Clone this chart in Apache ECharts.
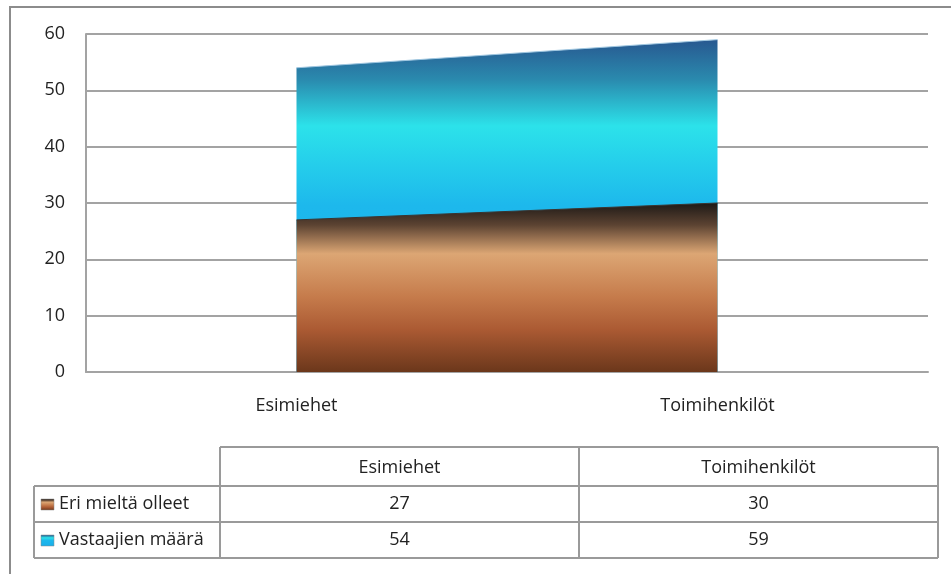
<!DOCTYPE html>
<html>
<head>
<meta charset="utf-8">
<script src="https://cdn.jsdelivr.net/npm/echarts@6/dist/echarts.min.js"></script>
<style>
  html, body { margin: 0; padding: 0; background: #fff; }
  #chart { width: 951px; height: 574px; }
</style>
</head>
<body>
<div id="chart"></div>
<script>
// Data
const categories = ['Esimiehet', 'Toimihenkilöt'];
const seriesNames = ['Eri mieltä olleet', 'Vastaajien määrä'];
const eriMieltaOlleet = [27, 30];
const vastaajienMaara = [54, 59];
const yTicks = [0, 10, 20, 30, 40, 50, 60];

const FONT = '"Open Sans", "Noto Sans", sans-serif';
const FS = 18;
const TEXT = '#222222';
const GRID = '#a3a3a3';

const brownFill = {
  type: 'linear', x: 0, y: 0, x2: 0, y2: 1,
  colorStops: [
    { offset: 0.00, color: '#1d1916' },
    { offset: 0.13, color: '#5c4332' },
    { offset: 0.30, color: '#dca674' },
    { offset: 0.55, color: '#c67c4c' },
    { offset: 0.75, color: '#ab5a33' },
    { offset: 1.00, color: '#6b371b' }
  ]
};
const blueFill = {
  type: 'linear', x: 0, y: 0, x2: 0, y2: 1,
  colorStops: [
    { offset: 0.00, color: '#285890' },
    { offset: 0.12, color: '#2a8aae' },
    { offset: 0.26, color: '#2ce2ea' },
    { offset: 0.50, color: '#1db8ec' },
    { offset: 1.00, color: '#1aaeea' }
  ]
};
const seriesFills = [brownFill, blueFill];
const seriesValues = [eriMieltaOlleet, vastaajienMaara];

// Data table under the chart
const tbl = { x0: 34, x1: 220, colW: 359, headTop: 447, headH: 39, rowH: 36 };
const tableGraphics = [];
const lineStyle = { stroke: '#9a9a9a', lineWidth: 2 };
function hLine(x1, x2, y) {
  tableGraphics.push({ type: 'line', shape: { x1, y1: y, x2, y2: y }, style: lineStyle, silent: true });
}
function vLine(x, y1, y2) {
  tableGraphics.push({ type: 'line', shape: { x1: x, y1, x2: x, y2 }, style: lineStyle, silent: true });
}
function cellText(text, x, y, align) {
  tableGraphics.push({
    type: 'text', x, y, silent: true,
    style: { text, fill: TEXT, font: FS + 'px ' + FONT, align: align || 'center', verticalAlign: 'middle' }
  });
}
(function buildTable() {
  const right = tbl.x1 + tbl.colW * categories.length;
  const rowsTop = tbl.headTop + tbl.headH;
  const bottom = rowsTop + tbl.rowH * seriesNames.length;
  hLine(tbl.x1, right, tbl.headTop);
  hLine(tbl.x0, right, rowsTop);
  seriesNames.forEach((_, i) => hLine(tbl.x0, right, rowsTop + tbl.rowH * (i + 1)));
  vLine(tbl.x0, rowsTop, bottom);
  for (let c = 0; c <= categories.length; c++) {
    vLine(tbl.x1 + tbl.colW * c, tbl.headTop, bottom);
  }
  categories.forEach((cat, c) => cellText(cat, tbl.x1 + tbl.colW * (c + 0.5), tbl.headTop + tbl.headH / 2 + 1));
  seriesNames.forEach((name, i) => {
    const cy = rowsTop + tbl.rowH * (i + 0.5);
    tableGraphics.push({
      type: 'rect', silent: true,
      shape: { x: tbl.x0 + 7, y: cy - 5, width: 13, height: 11 },
      style: { fill: seriesFills[i], stroke: '#8a8a8a', lineWidth: 0.5 }
    });
    cellText(name, tbl.x0 + 25, cy, 'left');
    seriesValues[i].forEach((v, c) => cellText(String(v), tbl.x1 + tbl.colW * (c + 0.5), cy));
  });
})();

const chart = echarts.init(document.getElementById('chart'), null, { renderer: 'canvas' });
chart.setOption({
  animation: false,
  backgroundColor: '#fff',
  textStyle: { fontFamily: FONT },
  grid: { left: 86, right: 23, top: 34, bottom: 202, containLabel: false },
  xAxis: {
    type: 'category',
    data: categories,
    boundaryGap: true,
    axisLine: { show: true, lineStyle: { color: GRID, width: 2 } },
    axisTick: { show: false },
    axisLabel: { color: TEXT, fontSize: FS, margin: 25, fontFamily: FONT },
    splitLine: { show: false }
  },
  yAxis: {
    type: 'value',
    min: yTicks[0],
    max: yTicks[yTicks.length - 1],
    interval: 10,
    axisLine: { show: true, lineStyle: { color: GRID, width: 2 } },
    axisTick: { show: false },
    axisLabel: { color: TEXT, fontSize: FS, margin: 21, fontFamily: FONT },
    splitLine: { show: true, lineStyle: { color: GRID, width: 2 } }
  },
  series: [
    {
      name: seriesNames[1],
      type: 'line',
      data: vastaajienMaara,
      symbol: 'none',
      z: 2,
      lineStyle: { width: 1, color: '#9ec6e0' },
      areaStyle: { color: blueFill, opacity: 1 }
    },
    {
      name: seriesNames[0],
      type: 'line',
      data: eriMieltaOlleet,
      symbol: 'none',
      z: 3,
      lineStyle: { width: 1, color: '#3a3430' },
      areaStyle: { color: brownFill, opacity: 1 }
    }
  ],
  graphic: [
    {
      type: 'rect', silent: true, z: -1,
      shape: { x: 10, y: 7, width: 1000, height: 700 },
      style: { fill: 'none', stroke: '#8c8c8c', lineWidth: 2 }
    }
  ].concat(tableGraphics)
});
</script>
</body>
</html>
